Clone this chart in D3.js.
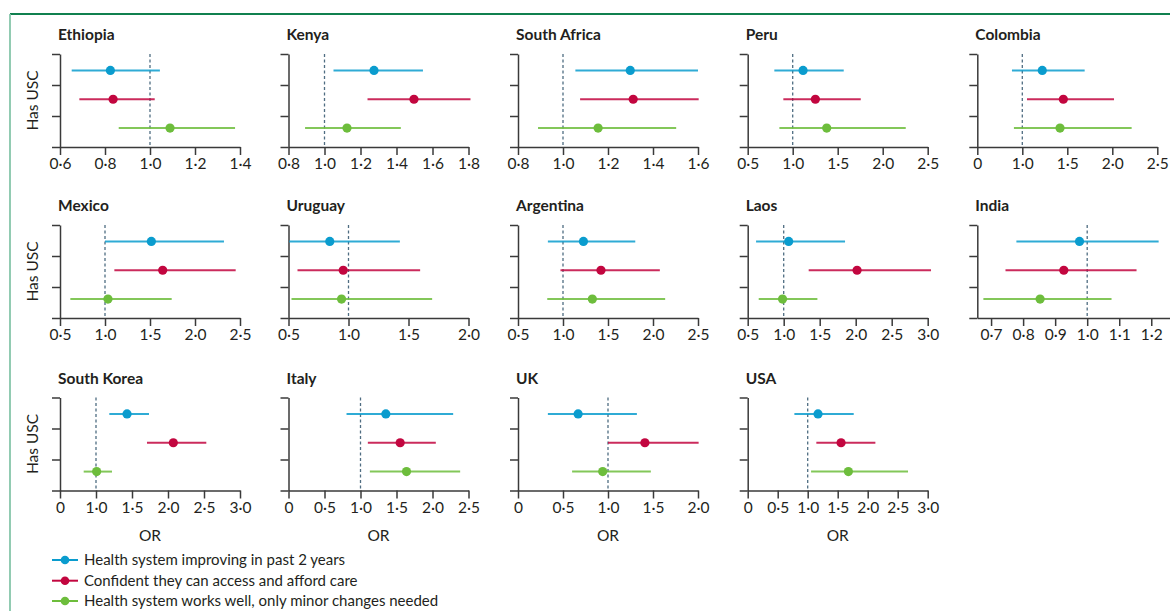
<!DOCTYPE html>
<html>
<head>
<meta charset="utf-8">
<script src="https://cdn.jsdelivr.net/npm/d3@7"></script>
<style>
  html, body { margin: 0; padding: 0; background: #fff; }
  svg { display: block; font-family: Lato, "Open Sans", sans-serif; }
</style>
</head>
<body>
<svg id="chart" width="1170" height="611"></svg>
<script>
// Countries, in panel order (five per row)
const countries = ["Ethiopia", "Kenya", "South Africa", "Peru", "Colombia",
                   "Mexico", "Uruguay", "Argentina", "Laos", "India",
                   "South Korea", "Italy", "UK", "USA"];

// x-axis domain for each panel
const xDomains = [
  [0.6, 1.4], [0.8, 1.8], [0.8, 1.6], [0.5, 2.5], [0.5, 2.5],
  [0.5, 2.5], [0.5, 2.0], [0.5, 2.5], [0.5, 3.0], [0.657, 1.275],
  [0.5, 3.0], [0, 2.5], [0, 2.0], [0, 3.0]
];

// tick positions for each panel
const tickValues = [
  [0.6, 0.8, 1.0, 1.2, 1.4],
  [0.8, 1.0, 1.2, 1.4, 1.6, 1.8],
  [0.8, 1.0, 1.2, 1.4, 1.6],
  [0.5, 1.0, 1.5, 2.0, 2.5],
  [0.5, 1.0, 1.5, 2.0, 2.5],
  [0.5, 1.0, 1.5, 2.0, 2.5],
  [0.5, 1.0, 1.5, 2.0],
  [0.5, 1.0, 1.5, 2.0, 2.5],
  [0.5, 1.0, 1.5, 2.0, 2.5, 3.0],
  [0.7, 0.8, 0.9, 1.0, 1.1, 1.2],
  [0.5, 1.0, 1.5, 2.0, 2.5, 3.0],
  [0, 0.5, 1.0, 1.5, 2.0, 2.5],
  [0, 0.5, 1.0, 1.5, 2.0],
  [0, 0.5, 1.0, 1.5, 2.0, 2.5, 3.0]
];

// tick labels for each panel (printed as published)
const tickLabels = [
  ["0·6", "0·8", "1·0", "1·2", "1·4"],
  ["0·8", "1·0", "1·2", "1·4", "1·6", "1·8"],
  ["0·8", "1·0", "1·2", "1·4", "1·6"],
  ["0·5", "1·0", "1·5", "2·0", "2·5"],
  ["0", "1·0", "1·5", "2·0", "2·5"],
  ["0·5", "1·0", "1·5", "2·0", "2·5"],
  ["0·5", "1·0", "1·5", "2·0"],
  ["0·5", "1·0", "1·5", "2·0", "2·5"],
  ["0·5", "1·0", "1·5", "2·0", "2·5", "3·0"],
  ["0·7", "0·8", "0·9", "1·0", "1·1", "1·2"],
  ["0", "1·0", "1·5", "2·0", "2·5", "3·0"],
  ["0", "0·5", "1·0", "1·5", "2·0", "2·5"],
  ["0", "0·5", "1·0", "1·5", "2·0"],
  ["0", "0·5", "1·0", "1·5", "2·0", "2·5", "3·0"]
];

// Odds ratios [estimate, lower CI, upper CI] per country
const improving = [
  [0.824, 0.652, 1.044], [1.275, 1.05, 1.547], [1.299, 1.055, 1.60], [1.115, 0.796, 1.567],
  [1.222, 0.885, 1.693], [1.515, 1.0, 2.322], [0.844, 0.506, 1.428], [1.227, 0.832, 1.803],
  [1.069, 0.616, 1.852], [0.976, 0.779, 1.223], [1.431, 1.185, 1.736], [1.352, 0.806, 2.287],
  [0.668, 0.332, 1.321], [1.172, 0.778, 1.767]
];
const confident = [
  [0.836, 0.686, 1.021], [1.497, 1.239, 1.811], [1.312, 1.076, 1.603], [1.252, 0.896, 1.756],
  [1.456, 1.052, 2.019], [1.641, 1.104, 2.452], [0.956, 0.575, 1.597], [1.422, 0.972, 2.076],
  [2.019, 1.347, 3.046], [0.927, 0.745, 1.154], [2.074, 1.708, 2.532], [1.551, 1.102, 2.046],
  [1.41, 1.0, 2.007], [1.556, 1.144, 2.128]
];
const worksWell = [
  [1.089, 0.861, 1.378], [1.125, 0.892, 1.424], [1.156, 0.889, 1.503], [1.378, 0.852, 2.256],
  [1.419, 0.907, 2.215], [1.033, 0.615, 1.741], [0.942, 0.525, 1.697], [1.326, 0.825, 2.135],
  [0.984, 0.653, 1.468], [0.853, 0.676, 1.076], [1.009, 0.829, 1.222], [1.639, 1.13, 2.384],
  [0.941, 0.601, 1.476], [1.678, 1.056, 2.672]
];

const seriesNames = [
  "Health system improving in past 2 years",
  "Confident they can access and afford care",
  "Health system works well, only minor changes needed"
];
const seriesColors = ["#0a9cce", "#c2063f", "#6dbd3c"];
const seriesData = [improving, confident, worksWell];
const rowSlots = [0.53, 1.46, 2.39];

const svg = d3.select("#chart");

// frame
svg.append("line").attr("x1", 10).attr("x2", 1170).attr("y1", 14).attr("y2", 14)
  .attr("stroke", "#10804f").attr("stroke-width", 1.8);
svg.append("line").attr("x1", 10).attr("x2", 10).attr("y1", 14).attr("y2", 611)
  .attr("stroke", "#86c6aa").attr("stroke-width", 1.8);

const colX = [60, 288.5, 518, 747.7, 977.3];
const rowY = [54, 225, 397.5];
const plotW = 180, plotH = 93;
const textColor = "#231f20";
const axisColor = "#3a3a3a";

countries.forEach((name, i) => {
  const col = i % 5, row = Math.floor(i / 5);
  const left = colX[col], top = rowY[row];
  const width = (name === "India") ? 198 : plotW;
  const x = d3.scaleLinear().domain(xDomains[i]).range([left, left + width]);
  const y = d3.scaleLinear().domain([0, 3]).range([top, top + plotH]);
  const g = svg.append("g");

  // panel title
  g.append("text").attr("x", left - 2).attr("y", top - 14)
    .attr("font-weight", 700).attr("font-size", 15.5).attr("fill", textColor).text(name);

  // reference line at OR = 1
  g.append("line").attr("x1", x(1)).attr("x2", x(1)).attr("y1", top).attr("y2", top + plotH)
    .attr("stroke", "#4f6d82").attr("stroke-width", 1.3).attr("stroke-dasharray", "3,2.5");

  // x axis
  const xa = g.append("g").attr("transform", `translate(0,${top + plotH})`)
    .call(d3.axisBottom(x).tickValues(tickValues[i])
      .tickFormat((d, k) => tickLabels[i][k]).tickSize(8).tickSizeOuter(0).tickPadding(3));
  // y axis
  const ya = g.append("g").attr("transform", `translate(${left},0)`)
    .call(d3.axisLeft(y).tickValues([0, 1, 2, 3]).tickFormat("").tickSize(8).tickSizeOuter(0));
  [xa, ya].forEach(a => {
    a.selectAll("path, line").attr("stroke", axisColor).attr("stroke-width", 1.5);
    a.selectAll("text").attr("fill", textColor).attr("font-size", 15.5)
      .attr("font-family", "Lato, 'Open Sans', sans-serif");
  });

  // estimates with confidence intervals
  seriesData.forEach((s, k) => {
    const [est, lo, hi] = s[i];
    const yy = y(rowSlots[k]);
    g.append("line").attr("x1", x(lo)).attr("x2", x(hi)).attr("y1", yy).attr("y2", yy)
      .attr("stroke", seriesColors[k]).attr("stroke-opacity", 0.85).attr("stroke-width", 2);
    g.append("circle").attr("cx", x(est)).attr("cy", yy).attr("r", 4.6)
      .attr("fill", seriesColors[k]);
  });

  if (col === 0) {
    g.append("text").attr("transform", `translate(38,${top + plotH / 2}) rotate(-90)`)
      .attr("text-anchor", "middle").attr("font-size", 15.5).attr("fill", textColor).text("Has USC");
  }
  if (row === 2) {
    g.append("text").attr("x", left + plotW / 2).attr("y", top + plotH + 50)
      .attr("text-anchor", "middle").attr("font-size", 15.5).attr("fill", textColor).text("OR");
  }
});

// legend
const legendY = [560, 580.7, 601];
seriesNames.forEach((label, k) => {
  const g = svg.append("g").attr("transform", `translate(0,${legendY[k]})`);
  g.append("line").attr("x1", 52).attr("x2", 78).attr("stroke", seriesColors[k]).attr("stroke-width", 2);
  g.append("circle").attr("cx", 65).attr("r", 4.3).attr("fill", seriesColors[k]);
  g.append("text").attr("x", 84).attr("dy", "0.35em").attr("font-size", 15)
    .attr("fill", textColor).text(label);
});
</script>
</body>
</html>
